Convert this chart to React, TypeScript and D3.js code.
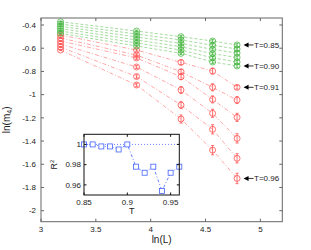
import React from "react";
import * as d3 from "d3";

// ---- data ----
const lnL = [Math.log(24), Math.log(48), Math.log(72), Math.log(96), Math.log(120)];
const greenT = [0.85, 0.86, 0.87, 0.88, 0.89, 0.9];
const redT = [0.91, 0.92, 0.93, 0.94, 0.95, 0.96];
const greenLogM4 = [
  [-0.372, -0.452, -0.501, -0.538, -0.572],
  [-0.391, -0.478, -0.529, -0.574, -0.607],
  [-0.411, -0.503, -0.558, -0.61, -0.641],
  [-0.431, -0.529, -0.587, -0.647, -0.68],
  [-0.452, -0.555, -0.616, -0.683, -0.719],
  [-0.472, -0.581, -0.644, -0.719, -0.753],
];
const greenErr = [
  [0.004, 0.008, 0.01, 0.012, 0.012],
  [0.004, 0.008, 0.01, 0.012, 0.012],
  [0.004, 0.008, 0.01, 0.012, 0.012],
  [0.004, 0.008, 0.01, 0.012, 0.012],
  [0.004, 0.008, 0.01, 0.012, 0.012],
  [0.004, 0.008, 0.01, 0.012, 0.012],
];
const redLogM4 = [
  [-0.486, -0.616, -0.722, -0.797, -0.937],
  [-0.512, -0.659, -0.803, -0.937, -1.047],
  [-0.538, -0.684, -0.846, -1.041, -1.196],
  [-0.564, -0.762, -0.96, -1.161, -1.377],
  [-0.59, -0.844, -1.09, -1.299, -1.549],
  [-0.616, -0.917, -1.21, -1.478, -1.722],
];
const redErr = [
  [0.005, 0.01, 0.02, 0.025, 0.015],
  [0.005, 0.01, 0.02, 0.03, 0.03],
  [0.005, 0.012, 0.025, 0.03, 0.035],
  [0.005, 0.012, 0.03, 0.035, 0.04],
  [0.005, 0.015, 0.03, 0.04, 0.04],
  [0.005, 0.015, 0.035, 0.04, 0.045],
];
const annotLabels = ["T=0.85", "T=0.90", "T=0.91", "T=0.96"];
const xTicks = [3, 3.5, 4, 4.5, 5];
const yTicks = [-0.4, -0.6, -0.8, -1, -1.2, -1.4, -1.6, -1.8, -2];

const insetT = [0.85, 0.86, 0.87, 0.88, 0.89, 0.9, 0.91, 0.92, 0.93, 0.94, 0.95, 0.96];
const insetR2 = [1.0, 1.0, 0.998, 0.998, 0.995, 1.0, 0.978, 0.972, 0.978, 0.954, 0.972, 0.978];
const insetXTicks = [0.85, 0.9, 0.95];
const insetYTicks = [0.96, 0.98, 1];

const FONT = "'Liberation Sans', Arial, Helvetica, sans-serif";
const GREEN = "#45b540";
const GREEN_LINE = "#8dd285";
const RED = "#ff5050";
const RED_LINE = "#ff9090";
const BLUE = "#4463ff";

export default function App() {
  const x = d3.scaleLinear().domain([3, 5.2]).range([41, 282.3]);
  const y = d3.scaleLinear().domain([-2.0948, -0.3397]).range([221.7, 18]);
  const xi = d3.scaleLinear().domain([0.85, 0.96]).range([84, 179.3]);
  const yi = d3.scaleLinear().domain([0.95, 1.01]).range([195, 134.3]);
  const fmt = (t: number) => String(t);

  const line = d3
    .line<number>()
    .x((_, i) => x(lnL[i]))
    .y((d) => y(d));
  const insetLine = d3
    .line<number>()
    .x((_, i) => xi(insetT[i]))
    .y((d) => yi(d));

  const [x0, x1] = x.range();
  const [y0, y1] = y.range(); // bottom, top
  const [ix0, ix1] = xi.range();
  const [iy0, iy1] = yi.range();

  const annotSeries = [greenLogM4[0], greenLogM4[5], redLogM4[0], redLogM4[5]];

  const renderSeries = (
    vals: number[][],
    errs: number[][],
    color: string,
    lineColor: string,
    dash: string,
    key: string
  ) =>
    vals.map((s, si) => (
      <g key={key + si}>
        <path d={line(s) || ""} fill="none" stroke={lineColor} strokeWidth={0.8} strokeDasharray={dash} />
        {s.map((v, i) => {
          const cx = x(lnL[i]);
          const e = errs[si][i];
          const ya = y(v + e);
          const yb = y(v - e);
          return (
            <g key={i}>
              <line x1={cx} x2={cx} y1={ya} y2={yb} stroke={color} strokeWidth={0.8} />
              <line x1={cx - 1.5} x2={cx + 1.5} y1={ya} y2={ya} stroke={color} strokeWidth={0.8} />
              <line x1={cx - 1.5} x2={cx + 1.5} y1={yb} y2={yb} stroke={color} strokeWidth={0.8} />
              <circle cx={cx} cy={y(v)} r={3} fill="none" stroke={color} strokeWidth={0.8} />
            </g>
          );
        })}
      </g>
    ));

  return (
    <svg
      width={311}
      height={250}
      style={{ position: "absolute", left: 0, top: 0, background: "#fff" }}
      fontFamily={FONT}
    >
      <rect x={0} y={0} width={311} height={250} fill="#fff" />
      {/* series */}
      {renderSeries(redLogM4, redErr, RED, RED_LINE, "4,2,1,2", "r")}
      {renderSeries(greenLogM4, greenErr, GREEN, GREEN_LINE, "3,2", "g")}

      {/* main frame */}
      <rect x={x0} y={y1} width={x1 - x0} height={y0 - y1} fill="none" stroke="#666" strokeWidth={1} />
      {xTicks.map((t) => (
        <g key={"xt" + t}>
          <line x1={x(t)} x2={x(t)} y1={y0} y2={y0 - 3} stroke="#666" />
          <line x1={x(t)} x2={x(t)} y1={y1} y2={y1 + 3} stroke="#666" />
          <text x={x(t)} y={y0 + 10.5} textAnchor="middle" fontSize={8} fill="#222">
            {fmt(t)}
          </text>
        </g>
      ))}
      {yTicks.map((t) => (
        <g key={"yt" + t}>
          <line x1={x0} x2={x0 + 3} y1={y(t)} y2={y(t)} stroke="#666" />
          <line x1={x1} x2={x1 - 3} y1={y(t)} y2={y(t)} stroke="#666" />
          <text x={x0 - 5} y={y(t)} dy="0.35em" textAnchor="end" fontSize={8} fill="#222">
            {fmt(t)}
          </text>
        </g>
      ))}
      <text x={(x0 + x1) / 2} y={y0 + 21} textAnchor="middle" fontSize={10} fill="#222">
        ln(L)
      </text>
      <text transform={`translate(10,${(y0 + y1) / 2}) rotate(-90)`} textAnchor="middle" fontSize={10} fill="#222">
        ln(m<tspan fontSize={7} dy={2}>4</tspan>
        <tspan dy={-2}>)</tspan>
      </text>

      {/* annotations */}
      {annotSeries.map((s, k) => {
        const tx = x(lnL[lnL.length - 1]) + 6.5;
        const ty = y(s[s.length - 1]);
        return (
          <g key={"an" + k}>
            <path d={`M${tx},${ty} L${tx + 5},${ty - 2.5} L${tx + 5},${ty + 2.5} Z`} fill="#000" />
            <line x1={tx + 4} x2={tx + 10} y1={ty} y2={ty} stroke="#000" strokeWidth={0.8} />
            <text x={tx + 10.5} y={ty} dy="0.35em" fontSize={8} fill="#222">
              {annotLabels[k]}
            </text>
          </g>
        );
      })}

      {/* inset */}
      <rect x={ix0} y={iy1} width={ix1 - ix0} height={iy0 - iy1} fill="#fff" stroke="none" />
      <line x1={ix0} x2={ix1} y1={yi(1)} y2={yi(1)} stroke={BLUE} strokeWidth={0.8} strokeDasharray="1,2" />
      <path d={insetLine(insetR2) || ""} fill="none" stroke={BLUE} strokeWidth={0.8} strokeDasharray="3,2,1,2" />
      {insetR2.map((v, i) => (
        <rect
          key={"sq" + i}
          x={xi(insetT[i]) - 2.5}
          y={yi(v) - 2.5}
          width={5}
          height={5}
          fill="#fff"
          stroke={BLUE}
          strokeWidth={0.8}
        />
      ))}
      <rect x={ix0} y={iy1} width={ix1 - ix0} height={iy0 - iy1} fill="none" stroke="#111" strokeWidth={1} />
      {insetXTicks.map((t) => (
        <g key={"ixt" + t}>
          <line x1={xi(t)} x2={xi(t)} y1={iy0} y2={iy0 - 2.5} stroke="#111" />
          <line x1={xi(t)} x2={xi(t)} y1={iy1} y2={iy1 + 2.5} stroke="#111" />
          <text x={xi(t)} y={iy0 + 9.5} textAnchor="middle" fontSize={8} fill="#222">
            {fmt(t)}
          </text>
        </g>
      ))}
      {insetYTicks.map((t) => (
        <g key={"iyt" + t}>
          <line x1={ix0} x2={ix0 + 2.5} y1={yi(t)} y2={yi(t)} stroke="#111" />
          <line x1={ix1} x2={ix1 - 2.5} y1={yi(t)} y2={yi(t)} stroke="#111" />
          <text x={ix0 - 3} y={yi(t)} dy="0.35em" textAnchor="end" fontSize={8} fill="#222">
            {fmt(t)}
          </text>
        </g>
      ))}
      <text x={(ix0 + ix1) / 2} y={iy0 + 18.5} textAnchor="middle" fontSize={9} fill="#222">
        T
      </text>
      <text transform={`translate(57,${(iy0 + iy1) / 2}) rotate(-90)`} textAnchor="middle" fontSize={9} fill="#222">
        R<tspan fontSize={6} dy={-3}>2</tspan>
      </text>
    </svg>
  );
}
